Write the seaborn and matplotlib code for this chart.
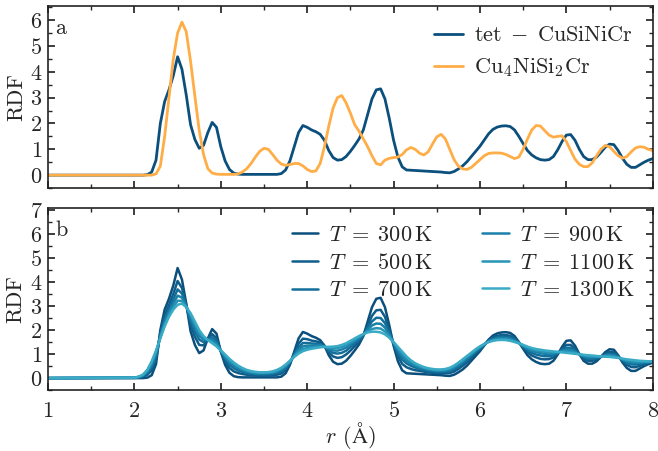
import numpy as np
import pandas as pd
import matplotlib
matplotlib.use("Agg")
import matplotlib.pyplot as plt
import seaborn as sns
from matplotlib.ticker import MultipleLocator

# radial grid (Å)
R = [1.00,
     2.00, 2.05, 2.10, 2.15, 2.20, 2.25, 2.30, 2.35, 2.40, 2.45,
     2.50, 2.55, 2.60, 2.65, 2.70, 2.75, 2.80, 2.85, 2.90, 2.95,
     3.00, 3.05, 3.10, 3.15, 3.20, 3.25, 3.30, 3.35, 3.40, 3.45,
     3.50, 3.55, 3.60, 3.65, 3.70, 3.75, 3.80, 3.85, 3.90, 3.95,
     4.00, 4.05, 4.10, 4.15, 4.20, 4.25, 4.30, 4.35, 4.40, 4.45,
     4.50, 4.55, 4.60, 4.65, 4.70, 4.75, 4.80, 4.85, 4.90, 4.95,
     5.00, 5.05, 5.10, 5.15, 5.20, 5.25, 5.30, 5.35, 5.40, 5.45,
     5.50, 5.55, 5.60, 5.65, 5.70, 5.75, 5.80, 5.85, 5.90, 5.95,
     6.00, 6.05, 6.10, 6.15, 6.20, 6.25, 6.30, 6.35, 6.40, 6.45,
     6.50, 6.55, 6.60, 6.65, 6.70, 6.75, 6.80, 6.85, 6.90, 6.95,
     7.00, 7.05, 7.10, 7.15, 7.20, 7.25, 7.30, 7.35, 7.40, 7.45,
     7.50, 7.55, 7.60, 7.65, 7.70, 7.75, 7.80, 7.85, 7.90, 7.95,
     8.00]

RDF_TET = [0,
    0, 0, 0, 0.02, 0.12, 0.58, 2.0, 2.85, 3.3, 3.85,
    4.58, 4.1, 3.1, 1.95, 1.38, 1.04, 1.15, 1.65, 2.04, 1.85,
    1.1, 0.55, 0.22, 0.08, 0.04, 0.03, 0.03, 0.03, 0.03, 0.03,
    0.03, 0.03, 0.03, 0.03, 0.06, 0.2, 0.55, 1.1, 1.65, 1.92,
    1.85, 1.75, 1.68, 1.58, 1.35, 0.95, 0.68, 0.58, 0.6, 0.72,
    0.92, 1.15, 1.4, 1.75, 2.35, 2.95, 3.3, 3.34, 2.95, 2.2,
    1.35, 0.7, 0.32, 0.2, 0.19, 0.18, 0.17, 0.16, 0.15, 0.14,
    0.13, 0.12, 0.1, 0.09, 0.14, 0.24, 0.36, 0.52, 0.72, 0.92,
    1.12, 1.36, 1.6, 1.77, 1.86, 1.9, 1.91, 1.88, 1.75, 1.5,
    1.22, 0.95, 0.78, 0.67, 0.6, 0.58, 0.6, 0.72, 0.98, 1.3,
    1.55, 1.57, 1.35, 1.0, 0.72, 0.6, 0.6, 0.7, 0.88, 1.08,
    1.2, 1.18, 0.95, 0.65, 0.42, 0.3, 0.3, 0.4, 0.5, 0.58,
    0.64]

RDF_CU4 = [0,
    0, 0, 0, 0, 0, 0.05, 0.35, 1.5, 3.0, 4.5,
    5.5, 5.92, 5.55, 4.4, 3.05, 1.74, 0.8, 0.25, 0.08, 0.04,
    0.03, 0.03, 0.03, 0.03, 0.05, 0.12, 0.25, 0.45, 0.7, 0.92,
    1.04, 1.0, 0.8, 0.58, 0.43, 0.38, 0.41, 0.45, 0.45, 0.36,
    0.22, 0.14, 0.16, 0.45, 1.1, 1.9, 2.6, 3.0, 3.08, 2.8,
    2.4, 1.95, 1.7, 1.4, 1.1, 0.75, 0.45, 0.4, 0.58, 0.65,
    0.68, 0.7, 0.8, 0.98, 1.07, 1.0, 0.85, 0.78, 0.9, 1.2,
    1.48, 1.58, 1.4, 1.0, 0.6, 0.35, 0.24, 0.22, 0.3, 0.45,
    0.6, 0.75, 0.84, 0.86, 0.86, 0.85, 0.8, 0.72, 0.64, 0.7,
    1.0, 1.4, 1.75, 1.92, 1.9, 1.72, 1.55, 1.47, 1.5, 1.52,
    1.3, 0.95, 0.62, 0.42, 0.33, 0.33, 0.48, 0.75, 1.0, 1.15,
    1.1, 0.92, 0.75, 0.66, 0.72, 0.9, 1.05, 1.1, 1.08, 1.0,
    0.95]

# temperature series (300 K is the tet structure above)
RDF_300K = RDF_TET
RDF_500K = [0,
    0.01, 0.02, 0.05, 0.14, 0.32, 0.78, 1.88, 2.61, 3.04, 3.5,
    4.04, 3.75, 3.05, 2.21, 1.72, 1.38, 1.36, 1.63, 1.83, 1.66,
    1.12, 0.7, 0.42, 0.28, 0.21, 0.17, 0.14, 0.12, 0.11, 0.1,
    0.1, 0.11, 0.12, 0.14, 0.19, 0.33, 0.61, 1.02, 1.43, 1.64,
    1.62, 1.56, 1.53, 1.48, 1.33, 1.07, 0.9, 0.84, 0.87, 0.98,
    1.14, 1.33, 1.52, 1.78, 2.19, 2.59, 2.82, 2.84, 2.55, 2.02,
    1.4, 0.91, 0.59, 0.45, 0.38, 0.33, 0.3, 0.27, 0.24, 0.22,
    0.21, 0.2, 0.2, 0.21, 0.27, 0.38, 0.51, 0.66, 0.84, 1.02,
    1.19, 1.38, 1.57, 1.69, 1.76, 1.79, 1.79, 1.76, 1.66, 1.48,
    1.28, 1.08, 0.94, 0.86, 0.8, 0.78, 0.79, 0.86, 1.02, 1.22,
    1.38, 1.38, 1.23, 1.0, 0.81, 0.72, 0.72, 0.78, 0.89, 1.01,
    1.09, 1.07, 0.91, 0.71, 0.55, 0.46, 0.45, 0.51, 0.57, 0.62,
    0.66]
RDF_700K = [0,
    0.01, 0.03, 0.09, 0.21, 0.46, 0.91, 1.8, 2.44, 2.87, 3.27,
    3.69, 3.52, 3.01, 2.39, 1.94, 1.6, 1.5, 1.61, 1.7, 1.54,
    1.13, 0.8, 0.56, 0.41, 0.32, 0.26, 0.21, 0.18, 0.16, 0.15,
    0.15, 0.16, 0.18, 0.21, 0.27, 0.41, 0.65, 0.97, 1.28, 1.46,
    1.46, 1.44, 1.43, 1.41, 1.32, 1.15, 1.05, 1.02, 1.05, 1.14,
    1.29, 1.44, 1.6, 1.8, 2.09, 2.36, 2.51, 2.5, 2.29, 1.9,
    1.44, 1.05, 0.77, 0.61, 0.51, 0.44, 0.38, 0.33, 0.3, 0.28,
    0.26, 0.26, 0.26, 0.29, 0.36, 0.47, 0.6, 0.75, 0.92, 1.08,
    1.24, 1.39, 1.54, 1.64, 1.7, 1.72, 1.72, 1.69, 1.61, 1.47,
    1.31, 1.16, 1.05, 0.98, 0.94, 0.91, 0.91, 0.95, 1.04, 1.17,
    1.26, 1.26, 1.15, 0.99, 0.87, 0.8, 0.8, 0.83, 0.89, 0.97,
    1.01, 0.99, 0.89, 0.74, 0.63, 0.57, 0.56, 0.59, 0.62, 0.65,
    0.67]
RDF_900K = [0,
    0.02, 0.05, 0.11, 0.27, 0.56, 1.01, 1.74, 2.33, 2.74, 3.1,
    3.43, 3.35, 2.99, 2.51, 2.11, 1.76, 1.6, 1.6, 1.6, 1.45,
    1.14, 0.87, 0.66, 0.51, 0.4, 0.32, 0.26, 0.23, 0.2, 0.19,
    0.19, 0.2, 0.22, 0.26, 0.34, 0.47, 0.68, 0.94, 1.18, 1.32,
    1.35, 1.35, 1.36, 1.36, 1.31, 1.21, 1.15, 1.14, 1.19, 1.27,
    1.39, 1.53, 1.66, 1.81, 2.01, 2.19, 2.27, 2.26, 2.1, 1.81,
    1.46, 1.15, 0.91, 0.73, 0.6, 0.51, 0.44, 0.39, 0.35, 0.32,
    0.3, 0.3, 0.31, 0.35, 0.43, 0.54, 0.68, 0.82, 0.98, 1.13,
    1.27, 1.41, 1.53, 1.61, 1.65, 1.67, 1.66, 1.63, 1.56, 1.46,
    1.34, 1.22, 1.13, 1.08, 1.04, 1.01, 1.0, 1.01, 1.06, 1.13,
    1.18, 1.17, 1.1, 0.99, 0.91, 0.86, 0.86, 0.87, 0.9, 0.94,
    0.96, 0.94, 0.87, 0.77, 0.69, 0.65, 0.63, 0.64, 0.66, 0.67,
    0.69]
RDF_1100K = [0,
    0.02, 0.05, 0.13, 0.31, 0.64, 1.09, 1.69, 2.23, 2.63, 2.96,
    3.22, 3.21, 2.97, 2.62, 2.24, 1.89, 1.68, 1.59, 1.52, 1.38,
    1.14, 0.93, 0.74, 0.59, 0.47, 0.38, 0.31, 0.26, 0.23, 0.22,
    0.22, 0.23, 0.25, 0.31, 0.39, 0.52, 0.7, 0.9, 1.09, 1.21,
    1.25, 1.28, 1.3, 1.31, 1.3, 1.26, 1.24, 1.25, 1.29, 1.37,
    1.48, 1.6, 1.71, 1.82, 1.95, 2.04, 2.08, 2.06, 1.94, 1.74,
    1.48, 1.23, 1.01, 0.82, 0.68, 0.57, 0.49, 0.43, 0.38, 0.35,
    0.33, 0.33, 0.35, 0.39, 0.48, 0.6, 0.73, 0.88, 1.02, 1.17,
    1.3, 1.41, 1.51, 1.57, 1.61, 1.62, 1.62, 1.59, 1.53, 1.46,
    1.36, 1.27, 1.2, 1.15, 1.12, 1.09, 1.07, 1.07, 1.08, 1.1,
    1.11, 1.09, 1.05, 0.99, 0.94, 0.91, 0.9, 0.9, 0.9, 0.91,
    0.92, 0.9, 0.85, 0.79, 0.74, 0.71, 0.69, 0.68, 0.69, 0.69,
    0.69]
RDF_1300K = [0,
    0.02, 0.06, 0.15, 0.35, 0.7, 1.15, 1.65, 2.15, 2.55, 2.85,
    3.05, 3.1, 2.95, 2.7, 2.35, 2.0, 1.75, 1.58, 1.45, 1.32,
    1.15, 0.98, 0.8, 0.65, 0.52, 0.42, 0.34, 0.29, 0.26, 0.24,
    0.24, 0.25, 0.28, 0.34, 0.43, 0.56, 0.72, 0.88, 1.02, 1.12,
    1.18, 1.22, 1.25, 1.28, 1.3, 1.3, 1.31, 1.33, 1.38, 1.45,
    1.55, 1.65, 1.75, 1.83, 1.9, 1.93, 1.93, 1.9, 1.82, 1.68,
    1.5, 1.3, 1.1, 0.9, 0.74, 0.62, 0.53, 0.46, 0.41, 0.38,
    0.36, 0.36, 0.38, 0.43, 0.52, 0.64, 0.78, 0.92, 1.06, 1.2,
    1.32, 1.42, 1.5, 1.55, 1.58, 1.59, 1.58, 1.55, 1.5, 1.45,
    1.38, 1.31, 1.25, 1.21, 1.18, 1.15, 1.13, 1.11, 1.09, 1.07,
    1.05, 1.03, 1.01, 0.99, 0.97, 0.95, 0.94, 0.92, 0.9, 0.89,
    0.88, 0.86, 0.84, 0.81, 0.78, 0.76, 0.74, 0.72, 0.71, 0.7,
    0.7]

STRUCT_LABELS = [r'$\mathrm{tet}\;-\;\mathrm{CuSiNiCr}$', r'$\mathrm{Cu_4NiSi_2Cr}$']
STRUCT_COLORS = ['#0b4f7d', '#ffad47']
TEMPS = [300, 500, 700, 900, 1100, 1300]
TEMP_COLORS = ['#0b4f7d', '#0e5d8b', '#136e99', '#1a80a8', '#2694b7', '#3aabc6']

sns.set_theme(style='ticks')
plt.rcParams.update({
    'font.family': 'serif',
    'font.serif': ['cmr10', 'DejaVu Serif'],
    'mathtext.fontset': 'cm',
    'axes.formatter.use_mathtext': True,
    'axes.unicode_minus': False,
    'font.size': 16,
    'axes.labelsize': 16,
    'xtick.labelsize': 16,
    'ytick.labelsize': 16,
    'legend.fontsize': 16,
    'xtick.direction': 'in',
    'ytick.direction': 'in',
    'xtick.top': True,
    'ytick.right': True,
    'xtick.major.size': 5,
    'ytick.major.size': 5,
    'xtick.minor.size': 3,
    'ytick.minor.size': 3,
    'xtick.major.pad': 8,
    'ytick.major.pad': 4,
    'axes.edgecolor': '#222222',
    'axes.linewidth': 1.2,
})

df_top = pd.DataFrame({
    'r': R * 2,
    'RDF': RDF_TET + RDF_CU4,
    'structure': [STRUCT_LABELS[0]] * len(R) + [STRUCT_LABELS[1]] * len(R),
})
temp_series = [RDF_300K, RDF_500K, RDF_700K, RDF_900K, RDF_1100K, RDF_1300K]
temp_labels = [rf'$T\;=\;{t}\,\mathrm{{K}}$' for t in TEMPS]
df_bot = pd.DataFrame({
    'r': R * len(TEMPS),
    'RDF': sum(temp_series, []),
    'T': sum([[lab] * len(R) for lab in temp_labels], []),
})

fig = plt.figure(figsize=(6.58, 4.51), dpi=100)
ax_a = fig.add_axes([0.073, 0.583, 0.919, 0.404])
ax_b = fig.add_axes([0.073, 0.135, 0.919, 0.404])

sns.lineplot(data=df_top, x='r', y='RDF', hue='structure', hue_order=STRUCT_LABELS,
             palette=STRUCT_COLORS, linewidth=2, ax=ax_a, sort=False, estimator=None)
sns.lineplot(data=df_bot, x='r', y='RDF', hue='T', hue_order=temp_labels,
             palette=TEMP_COLORS, linewidth=1.8, ax=ax_b, sort=False, estimator=None)

for ax in (ax_a, ax_b):
    ax.set_xlim(1, 8)
    ax.xaxis.set_major_locator(MultipleLocator(1))
    ax.xaxis.set_minor_locator(MultipleLocator(0.5))
    ax.yaxis.set_major_locator(MultipleLocator(1))
    ax.yaxis.set_minor_locator(MultipleLocator(0.5))
    ax.tick_params(which='both', top=True, right=True, direction='in')
    ax.set_ylabel('RDF', labelpad=3)
    for s in ax.spines.values():
        s.set_visible(True)

ax_a.set_ylim(-0.5, 6.55)
ax_b.set_ylim(-0.5, 7.08)
ax_a.set_xlabel('')
ax_a.tick_params(labelbottom=False)
ax_b.set_xlabel(r'$r$ ($\mathrm{\AA}$)', labelpad=-1)

ax_a.text(0.012, 0.93, 'a', transform=ax_a.transAxes, ha='left', va='top', fontsize=16)
ax_b.text(0.012, 0.93, 'b', transform=ax_b.transAxes, ha='left', va='top', fontsize=16)

ax_a.legend(loc='upper right', frameon=False, handlelength=1.3, handletextpad=0.5,
            labelspacing=0.5, borderaxespad=0.5, title=None)
ax_b.legend(loc='upper right', ncol=2, frameon=False, handlelength=1.2,
            handletextpad=0.5, labelspacing=0.35, columnspacing=2.2,
            borderaxespad=0.4, title=None)

fig.savefig('out.png', dpi=100)
